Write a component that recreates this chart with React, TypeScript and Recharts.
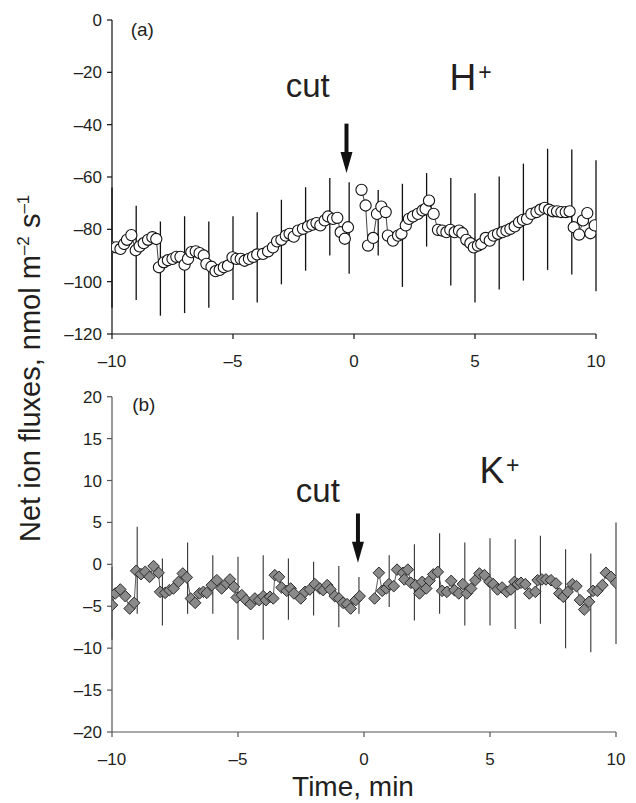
import React from 'react';
import {
  ComposedChart,
  Line,
  XAxis,
  YAxis,
  ErrorBar,
  ReferenceLine,
  ReferenceDot,
} from 'recharts';

const FONT = '"Liberation Sans", Arial, Helvetica, sans-serif';
const INK = '#231f20';

// ---------- Panel (a): H+ ----------
const hPreTime = [-10, -9.82, -9.65, -9.5, -9.38, -9.2, -9.02, -8.86, -8.69, -8.51, -8.33, -8.17, -8.06, -7.86, -7.69, -7.5, -7.34, -7.17, -7, -6.86, -6.72, -6.54, -6.38, -6.21, -6.1, -5.89, -5.72, -5.55, -5.38, -5.21, -5.02, -4.86, -4.68, -4.52, -4.34, -4.17, -4, -3.76, -3.55, -3.35, -3.18, -3, -2.82, -2.66, -2.49, -2.31, -2.11, -1.9, -1.72, -1.55, -1.39, -1.21, -1.07, -0.87, -0.69, -0.55, -0.38, -0.25];
const hPreFlux = [-86.9, -86.9, -87.5, -85.6, -84, -82.2, -88, -86.5, -85.3, -84, -83, -83.7, -94.5, -92.6, -91.8, -91.3, -90.5, -90.5, -93.5, -91.3, -88.7, -88.4, -89.1, -90, -93.2, -94.3, -96, -95.5, -94.5, -93.9, -90.7, -91.3, -91.3, -92, -91.3, -90.5, -89.6, -89.4, -88.4, -86.9, -84.6, -84, -82.4, -81.7, -82.8, -80.5, -79.8, -78.9, -78.2, -77.6, -78.5, -76.6, -75.1, -76, -75.6, -81.1, -83.6, -79.2];
const hPostTime = [0.31, 0.48, 0.58, 0.79, 0.95, 1.13, 1.31, 1.4, 1.61, 1.82, 1.96, 2.14, 2.27, 2.44, 2.64, 2.83, 2.96, 3.1, 3.29, 3.47, 3.65, 3.82, 3.98, 4.16, 4.34, 4.48, 4.64, 4.81, 4.95, 5.12, 5.26, 5.44, 5.61, 5.77, 5.95, 6.13, 6.3, 6.46, 6.64, 6.82, 6.98, 7.15, 7.33, 7.54, 7.7, 7.88, 8.06, 8.22, 8.39, 8.57, 8.75, 8.91, 9.08, 9.3, 9.46, 9.64, 9.77, 9.95];
const hPostFlux = [-64.9, -70.9, -86.2, -83.3, -74.1, -71.3, -73.4, -82.4, -84.3, -82.4, -81.7, -78.5, -76, -75.1, -74.1, -72.8, -72.2, -69, -74.1, -80.2, -80.5, -81.1, -80.2, -81.1, -80.5, -81.5, -84, -85.3, -86.9, -86.2, -85.6, -83.3, -84.3, -82.4, -81.7, -81.1, -80.5, -79.8, -78.9, -77.3, -76.4, -76, -74.1, -73.4, -72.5, -71.8, -72.5, -73.1, -73.1, -73.4, -73.4, -73.1, -79.2, -82, -76.6, -73.8, -81.5, -78.5];
const hBarTime = [-10, -9, -8, -7, -6, -5, -4, -3, -2, -1, -0.2, 1, 2, 3, 4, 5, 6, 7, 8, 9, 10];
const hBarLow = [-110, -107, -113, -112, -110, -107, -108, -101, -95.8, -90, -97, -90, -102, -86.6, -101.5, -108, -103, -99.6, -95.5, -97.3, -103.7];
const hBarHigh = [-64, -71, -77, -75, -77, -75, -73.5, -68.7, -63.9, -60.4, -62, -65, -62.6, -58.5, -60.4, -66.2, -59.8, -54.9, -49.2, -49.5, -53.6];

// ---------- Panel (b): K+ ----------
const kPreTime = [-10, -9.87, -9.67, -9.47, -9.3, -9.12, -9.04, -8.85, -8.68, -8.51, -8.35, -8.15, -8.09, -7.89, -7.72, -7.56, -7.36, -7.19, -7.03, -6.87, -6.7, -6.53, -6.37, -6.24, -6.04, -5.84, -5.65, -5.45, -5.32, -5.16, -5.05, -4.85, -4.68, -4.5, -4.33, -4.16, -4, -3.89, -3.73, -3.6, -3.54, -3.37, -3.27, -3.07, -2.91, -2.78, -2.51, -2.34, -2.15, -1.95, -1.75, -1.62, -1.46, -1.33, -1.16, -0.99, -0.83, -0.67, -0.53, -0.33, -0.17];
const kPreFlux = [-4.87, -3.47, -3.0, -3.8, -5.27, -4.59, -0.77, -1.17, -0.89, -1.49, -0.21, -1.01, -3.28, -3.4, -3.08, -2.88, -2.09, -1.09, -1.56, -4.07, -4.59, -3.47, -3.28, -3.4, -2.48, -1.89, -2.88, -2.28, -1.8, -2.68, -3.95, -3.68, -4.27, -4.75, -4.07, -4.27, -3.8, -4.27, -3.87, -4.07, -1.29, -1.49, -2.76, -3.16, -2.88, -3.47, -4.07, -3.28, -3.0, -2.36, -2.88, -3.08, -2.48, -3.0, -3.8, -4.07, -4.59, -4.75, -5.27, -4.27, -3.8];
const kPostTime = [0.42, 0.59, 0.72, 0.88, 0.99, 1.18, 1.31, 1.55, 1.6, 1.74, 1.86, 2.05, 2.2, 2.31, 2.47, 2.6, 2.75, 2.93, 3.1, 3.29, 3.46, 3.59, 3.76, 3.92, 4.08, 4.25, 4.42, 4.58, 4.78, 4.98, 5.13, 5.3, 5.48, 5.66, 5.83, 5.97, 6.1, 6.23, 6.4, 6.56, 6.8, 6.89, 7.06, 7.22, 7.42, 7.62, 7.75, 7.91, 8.08, 8.27, 8.43, 8.57, 8.74, 8.93, 9.09, 9.26, 9.46, 9.6, 9.8, 10];
const kPostFlux = [-4.07, -1.01, -3.16, -2.88, -2.36, -2.6, -0.63, -1.01, -1.8, -0.63, -2.2, -2.48, -3.47, -2.09, -2.88, -1.95, -1.2, -0.9, -3.16, -3.28, -1.97, -3.08, -3.47, -2.36, -3.47, -2.88, -1.89, -1.09, -1.29, -2.09, -2.36, -3.0, -2.76, -3.28, -3.0, -2.09, -2.36, -2.2, -2.36, -3.47, -3.28, -1.89, -1.8, -1.8, -1.89, -2.28, -3.47, -3.87, -3.28, -2.36, -2.6, -4.27, -5.39, -4.47, -3.16, -3.16, -2.48, -1.01, -1.49, -2.2];
const kBarTime = [-10, -9, -8, -7, -6, -5, -4, -3, -2, -1, -0.2, 1, 2, 3, 4, 5, 6, 7, 8, 9, 10];
const kBarLow = [-9, -5.9, -7.3, -5.9, -5.9, -9, -9, -6.6, -6.1, -7.5, -5.9, -5.1, -6.7, -5.9, -7.3, -7.3, -7.7, -7.1, -10, -10.5, -9.5];
const kBarHigh = [-0.3, 4.5, 0.7, 2.6, 1.1, 0.9, 1.1, 0.7, 0.3, -0.2, -1.5, 1.1, 2.4, 3.7, 2.6, 3.1, 3.0, 3.4, 1.8, 1.3, 5.0];

// ---------- Axes ----------
const xTicks = [-10, -5, 0, 5, 10];
const hTicks = [0, -20, -40, -60, -80, -100, -120];
const kTicks = [20, 15, 10, 5, 0, -5, -10, -15, -20];

// ---------- Annotation anchors (data coordinates) ----------
const hCutText = { t: -1.91, v: -29.6 };
const hArrow = { t: -0.31, from: -39.6, to: -58.5 };
const hIonText = { t: 3.95, v: -26.8 };
const hPanelText = { t: -9.23, v: -6.1 };
const kCutText = { t: -1.83, v: 7.46 };
const kArrow = { t: -0.24, from: 6.07, to: 0.18 };
const kIonText = { t: 4.58, v: 9.65 };
const kPanelText = { t: -9.2, v: 18.3 };

const rows = (ts: number[], vs: number[]) => ts.map((t, i) => ({ t, v: vs[i] }));
const bars = (ts: number[], lo: number[], hi: number[]) =>
  ts.map((t, i) => ({ t, v: (lo[i] + hi[i]) / 2, e: (hi[i] - lo[i]) / 2 }));

const hPre = rows(hPreTime, hPreFlux);
const hPost = rows(hPostTime, hPostFlux);
const hBars = bars(hBarTime, hBarLow, hBarHigh);
const kPre = rows(kPreTime, kPreFlux);
const kPost = rows(kPostTime, kPostFlux);
const kBars = bars(kBarTime, kBarLow, kBarHigh);

const fmt = (v: number) => (v < 0 ? '\u2013' + Math.abs(v) : String(v));
const tickStyle = { fill: INK, fontSize: 17, fontFamily: FONT };

const CircleDot = (p: any) => (
  <circle key={`c${p.index}`} cx={p.cx} cy={p.cy} r={5.6} fill="#fff" stroke="#111" strokeWidth={1.1} />
);
const DiamondDot = (p: any) => {
  const s = 5.8;
  return (
    <polygon
      key={`d${p.index}`}
      points={`${p.cx},${p.cy - s} ${p.cx + s},${p.cy} ${p.cx},${p.cy + s} ${p.cx - s},${p.cy}`}
      fill="#8a8a8a"
      stroke="#2b2b2b"
      strokeWidth={1}
    />
  );
};

const Arrow = (p: any) => {
  const x = p.x1;
  const top = Math.min(p.y1, p.y2);
  const tip = Math.max(p.y1, p.y2);
  const headLen = 21;
  const half = 6;
  return (
    <g>
      <line x1={x} y1={top} x2={x} y2={tip - headLen + 2} stroke="#111" strokeWidth={4} />
      <polygon points={`${x - half},${tip - headLen} ${x + half},${tip - headLen} ${x},${tip}`} fill="#111" />
    </g>
  );
};

const textShape = (content: React.ReactNode, size: number, anchor: string) => (p: any) => (
  <text x={p.cx} y={p.cy} fontSize={size} fill={INK} fontFamily={FONT} textAnchor={anchor}>
    {content}
  </text>
);

const ionLabel = (sym: string) => (
  <>
    {sym}
    <tspan fontSize={23} dx={2} dy={-10.5}>+</tspan>
  </>
);

const YTitle = () => (
  <text transform="translate(40,362) rotate(-90)" textAnchor="start" fontSize={29} fill={INK} fontFamily={FONT}>
    Net ion fluxes, nmol m
    <tspan fontSize={17} dy={-11}>{'\u2013'}2</tspan>
    <tspan dy={11}> s</tspan>
    <tspan fontSize={17} dy={-11}>{'\u2013'}1</tspan>
  </text>
);

const XTitle = (p: any) => {
  const vb = p.viewBox || { x: 112, y: 552, width: 504, height: 71 };
  return (
    <text x={vb.x + vb.width / 2 - 11} y={vb.y + vb.height - 7} textAnchor="middle" fontSize={28} fill={INK} fontFamily={FONT}>
      Time, min
    </text>
  );
};

export default function App() {
  return (
    <div style={{ position: 'absolute', left: 0, top: 0, width: 636, height: 803, background: '#fff', fontFamily: FONT }}>
      <div style={{ position: 'absolute', left: 0, top: 0 }}>
        <ComposedChart width={636} height={380} margin={{ top: 20, right: 40, bottom: 0, left: 0 }}>
          <XAxis
            type="number"
            dataKey="t"
            domain={[-10, 10]}
            ticks={xTicks}
            interval={0}
            allowDataOverflow
            height={46}
            tickSize={5}
            tickMargin={16}
            tick={tickStyle}
            tickFormatter={fmt}
            axisLine={{ stroke: '#111', strokeWidth: 1.2 }}
            tickLine={{ stroke: '#111', strokeWidth: 1.2 }}
          />
          <YAxis
            type="number"
            dataKey="v"
            domain={[-120, 0]}
            ticks={hTicks}
            interval={0}
            allowDataOverflow
            width={112}
            tickSize={5}
            tickMargin={5}
            tick={tickStyle}
            tickFormatter={fmt}
            axisLine={{ stroke: '#111', strokeWidth: 1.2 }}
            tickLine={{ stroke: '#111', strokeWidth: 1.2 }}
          />
          <Line data={hBars} dataKey="v" stroke="none" dot={false} activeDot={false} isAnimationActive={false}>
            <ErrorBar dataKey="e" width={0} stroke="#111" strokeWidth={1.3} />
          </Line>
          <Line data={hPre} dataKey="v" stroke="#111" strokeWidth={0.8} dot={CircleDot} activeDot={false} isAnimationActive={false} />
          <Line data={hPost} dataKey="v" stroke="#111" strokeWidth={0.8} dot={CircleDot} activeDot={false} isAnimationActive={false} />
          <ReferenceLine
            segment={[{ x: hArrow.t, y: hArrow.from }, { x: hArrow.t, y: hArrow.to }]}
            shape={Arrow}
            ifOverflow="visible"
          />
          <ReferenceDot x={hCutText.t} y={hCutText.v} r={0} ifOverflow="visible" shape={textShape('cut', 33, 'middle')} />
          <ReferenceDot x={hIonText.t} y={hIonText.v} r={0} ifOverflow="visible" shape={textShape(ionLabel('H'), 37, 'start')} />
          <ReferenceDot x={hPanelText.t} y={hPanelText.v} r={0} ifOverflow="visible" shape={textShape('(a)', 19, 'start')} />
        </ComposedChart>
      </div>
      <div style={{ position: 'absolute', left: 0, top: 180 }}>
        <ComposedChart width={636} height={623} margin={{ top: 216.7, right: 20, bottom: 0, left: 0 }}>
          <XAxis
            type="number"
            dataKey="t"
            domain={[-10, 10]}
            ticks={xTicks}
            interval={0}
            allowDataOverflow
            height={71}
            tickSize={5}
            tickMargin={16}
            tick={tickStyle}
            tickFormatter={fmt}
            axisLine={{ stroke: '#555', strokeWidth: 1.2 }}
            tickLine={{ stroke: '#555', strokeWidth: 1.2 }}
            label={XTitle}
          />
          <YAxis
            type="number"
            dataKey="v"
            domain={[-20, 20]}
            ticks={kTicks}
            interval={0}
            allowDataOverflow
            width={112}
            tickSize={5}
            tickMargin={5}
            tick={tickStyle}
            tickFormatter={fmt}
            axisLine={{ stroke: '#555', strokeWidth: 1.2 }}
            tickLine={{ stroke: '#555', strokeWidth: 1.2 }}
            label={YTitle}
          />
          <Line data={kBars} dataKey="v" stroke="none" dot={false} activeDot={false} isAnimationActive={false}>
            <ErrorBar dataKey="e" width={0} stroke="#333" strokeWidth={1.1} />
          </Line>
          <Line data={kPre} dataKey="v" stroke="#333" strokeWidth={0.8} dot={DiamondDot} activeDot={false} isAnimationActive={false} />
          <Line data={kPost} dataKey="v" stroke="#333" strokeWidth={0.8} dot={DiamondDot} activeDot={false} isAnimationActive={false} />
          <ReferenceLine
            segment={[{ x: kArrow.t, y: kArrow.from }, { x: kArrow.t, y: kArrow.to }]}
            shape={Arrow}
            ifOverflow="visible"
          />
          <ReferenceDot x={kCutText.t} y={kCutText.v} r={0} ifOverflow="visible" shape={textShape('cut', 33, 'middle')} />
          <ReferenceDot x={kIonText.t} y={kIonText.v} r={0} ifOverflow="visible" shape={textShape(ionLabel('K'), 37, 'start')} />
          <ReferenceDot x={kPanelText.t} y={kPanelText.v} r={0} ifOverflow="visible" shape={textShape('(b)', 19, 'start')} />
        </ComposedChart>
      </div>
    </div>
  );
}
